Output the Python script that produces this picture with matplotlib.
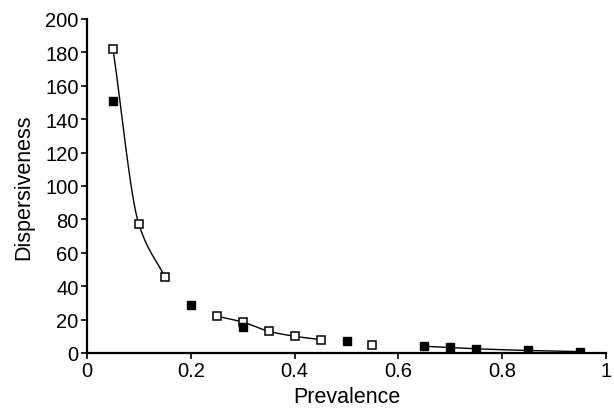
import numpy as np
import matplotlib.pyplot as plt
from matplotlib.ticker import FuncFormatter

plt.rcParams['font.family'] = ['Liberation Sans', 'DejaVu Sans']

# open squares
open_x = [0.05, 0.10, 0.15, 0.25, 0.30, 0.35, 0.40, 0.45, 0.55]
open_y = [182, 77, 45.5, 22, 18.5, 13, 10, 8, 4.5]
# filled squares
filled_x = [0.05, 0.20, 0.30, 0.50, 0.65, 0.70, 0.75, 0.85, 0.95]
filled_y = [151, 28.5, 15.5, 7, 4, 3.3, 2.5, 1.5, 0.8]

# index groups joined by a curve
open_curves = [(0, 3), (3, 8)]
filled_curves = [(4, 9)]


def smooth(xs, ys, n=60):
    # monotone cubic hermite through the points, for drawing only
    xs = np.asarray(xs, float)
    ys = np.asarray(ys, float)
    h = np.diff(xs)
    d = np.diff(ys) / h
    m = np.zeros_like(ys)
    m[0], m[-1] = d[0], d[-1]
    for i in range(1, len(xs) - 1):
        if d[i - 1] * d[i] > 0:
            w1 = 2 * h[i] + h[i - 1]
            w2 = h[i] + 2 * h[i - 1]
            m[i] = (w1 + w2) / (w1 / d[i - 1] + w2 / d[i])
    px, py = [], []
    for i in range(len(xs) - 1):
        t = np.linspace(0, 1, n)
        h00 = 2 * t**3 - 3 * t**2 + 1
        h10 = t**3 - 2 * t**2 + t
        h01 = -2 * t**3 + 3 * t**2
        h11 = t**3 - t**2
        px.append(xs[i] + t * h[i])
        py.append(h00 * ys[i] + h10 * h[i] * m[i] + h01 * ys[i + 1] + h11 * h[i] * m[i + 1])
    return np.concatenate(px), np.concatenate(py)


fig = plt.figure(figsize=(6.14, 4.14), dpi=100)
ax = fig.add_axes([0.1417, 0.145, 0.8453, 0.807])

for a, b in open_curves:
    sx, sy = smooth(open_x[a:b], open_y[a:b])
    ax.plot(sx, sy, color='black', lw=1.0, zorder=2)
for a, b in filled_curves:
    sx, sy = smooth(filled_x[a:b], filled_y[a:b])
    ax.plot(sx, sy, color='black', lw=1.0, zorder=2)

ax.plot(open_x, open_y, 's', ms=5.5, mfc='white', mec='black', mew=1.1, ls='none', zorder=3)
ax.plot(filled_x, filled_y, 's', ms=6, mfc='black', mec='black', mew=1.0, ls='none', zorder=3)

ax.set_xlim(0, 1)
ax.set_ylim(0, 200)
ax.set_xticks([0, 0.2, 0.4, 0.6, 0.8, 1])
ax.set_yticks(range(0, 201, 20))
ax.xaxis.set_major_formatter(FuncFormatter(lambda v, p: '%g' % v))

for s in ['top', 'right']:
    ax.spines[s].set_visible(False)
for s in ['left', 'bottom']:
    ax.spines[s].set_linewidth(1.6)
ax.tick_params(direction='out', length=4, width=1.2, labelsize=14.5, pad=2)

ax.set_xlabel('Prevalence', fontsize=15.5, labelpad=4)
ax.set_ylabel('Dispersiveness', fontsize=15.5, labelpad=8)

fig.savefig('out.png', dpi=100)
